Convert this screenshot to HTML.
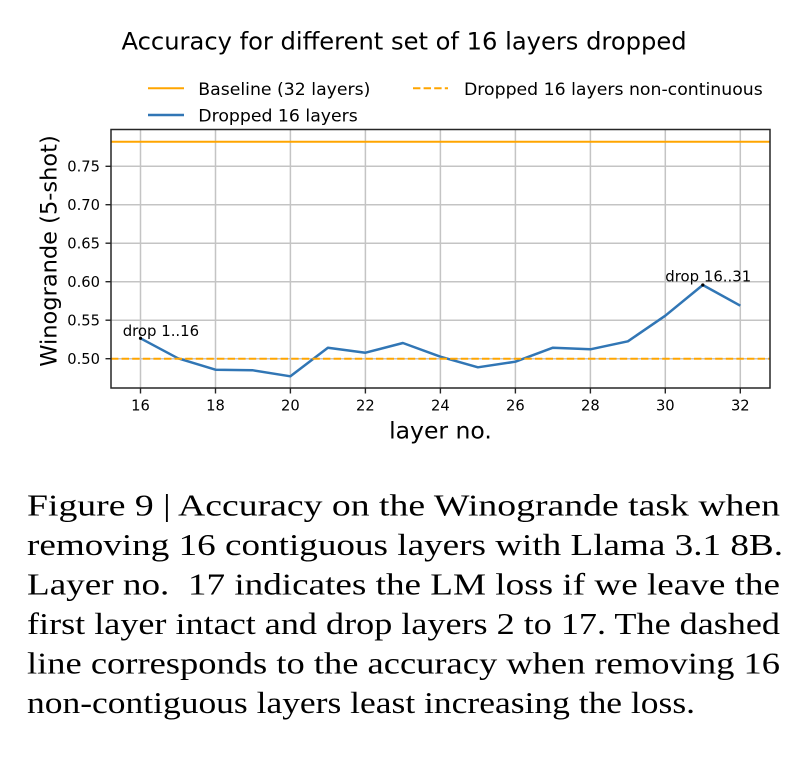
<!DOCTYPE html>
<html>
<head>
<meta charset="utf-8">
<style>
  html, body { margin: 0; padding: 0; background: #ffffff; }
  body { width: 810px; height: 758px; overflow: hidden; }
  svg { display: block; }
  .sans { font-family: "DejaVu Sans", "Liberation Sans", sans-serif; fill: #000; }
  .serif { font-family: "Liberation Serif", "DejaVu Serif", serif; fill: #000; font-size: 31px; }
</style>
</head>
<body>
<svg width="810" height="758" viewBox="0 0 810 758" xmlns="http://www.w3.org/2000/svg">
  <rect x="0" y="0" width="810" height="758" fill="#ffffff"/>

  <!-- Title -->
  <text class="sans" x="121.5" y="49.3" font-size="24.2">Accuracy for different set of 16 layers dropped</text>

  <!-- Legend -->
  <line x1="148" y1="88.3" x2="184" y2="88.3" stroke="#ffa500" stroke-width="2"/>
  <text class="sans" x="198.3" y="95" font-size="17.3">Baseline (32 layers)</text>
  <line x1="148" y1="115" x2="184" y2="115" stroke="#3176b5" stroke-width="2.5"/>
  <text class="sans" x="198.3" y="121.5" font-size="17.3">Dropped 16 layers</text>
  <line x1="413" y1="88.3" x2="448" y2="88.3" stroke="#ffa500" stroke-width="2" stroke-dasharray="7.4 3.2"/>
  <text class="sans" x="464" y="95" font-size="17.3">Dropped 16 layers non-continuous</text>

  <!-- Grid -->
  <g stroke="#c4c4c4" stroke-width="1.5">
    <line x1="140.5" y1="129.5" x2="140.5" y2="388"/>
    <line x1="215.5" y1="129.5" x2="215.5" y2="388"/>
    <line x1="290.4" y1="129.5" x2="290.4" y2="388"/>
    <line x1="365.4" y1="129.5" x2="365.4" y2="388"/>
    <line x1="440.4" y1="129.5" x2="440.4" y2="388"/>
    <line x1="515.4" y1="129.5" x2="515.4" y2="388"/>
    <line x1="590.4" y1="129.5" x2="590.4" y2="388"/>
    <line x1="665.3" y1="129.5" x2="665.3" y2="388"/>
    <line x1="740.3" y1="129.5" x2="740.3" y2="388"/>
    <line x1="111" y1="166.3" x2="770" y2="166.3"/>
    <line x1="111" y1="204.7" x2="770" y2="204.7"/>
    <line x1="111" y1="243.2" x2="770" y2="243.2"/>
    <line x1="111" y1="281.7" x2="770" y2="281.7"/>
    <line x1="111" y1="320.2" x2="770" y2="320.2"/>
    <line x1="111" y1="358.7" x2="770" y2="358.7"/>
  </g>

  <!-- Baseline -->
  <line x1="111" y1="141.7" x2="770" y2="141.7" stroke="#ffa500" stroke-width="2"/>

  <!-- Dropped 16 layers -->
  <polyline fill="none" stroke="#3176b5" stroke-width="2.5" stroke-linejoin="round"
    points="140.5,338.3 178,358.3 215.5,369.7 253,370.3 290.4,376.3 327.9,347.7 365.4,352.7 402.9,343 440.4,356.7 477.9,367.3 515.4,361.7 552.9,347.7 590.4,349.3 627.9,341.3 665.3,315.7 702.8,285 740.3,305.7"/>

  <!-- Dashed non-continuous -->
  <line x1="111" y1="358.7" x2="770" y2="358.7" stroke="#ffa500" stroke-width="2" stroke-dasharray="7.4 3.2"/>

  <!-- Annotations -->
  <circle cx="140.5" cy="338.3" r="1.6" fill="#000"/>
  <circle cx="702.8" cy="285" r="1.6" fill="#000"/>
  <text class="sans" x="122.7" y="336" font-size="14.9">drop 1..16</text>
  <text class="sans" x="665.3" y="281.7" font-size="14.9">drop 16..31</text>

  <!-- Axes frame -->
  <rect x="111" y="129.5" width="659" height="258.5" fill="none" stroke="#262626" stroke-width="1.5"/>

  <!-- Ticks -->
  <g stroke="#262626" stroke-width="1.4">
    <line x1="140.5" y1="388" x2="140.5" y2="393.5"/>
    <line x1="215.5" y1="388" x2="215.5" y2="393.5"/>
    <line x1="290.4" y1="388" x2="290.4" y2="393.5"/>
    <line x1="365.4" y1="388" x2="365.4" y2="393.5"/>
    <line x1="440.4" y1="388" x2="440.4" y2="393.5"/>
    <line x1="515.4" y1="388" x2="515.4" y2="393.5"/>
    <line x1="590.4" y1="388" x2="590.4" y2="393.5"/>
    <line x1="665.3" y1="388" x2="665.3" y2="393.5"/>
    <line x1="740.3" y1="388" x2="740.3" y2="393.5"/>
    <line x1="105.5" y1="166.3" x2="111" y2="166.3"/>
    <line x1="105.5" y1="204.7" x2="111" y2="204.7"/>
    <line x1="105.5" y1="243.2" x2="111" y2="243.2"/>
    <line x1="105.5" y1="281.7" x2="111" y2="281.7"/>
    <line x1="105.5" y1="320.2" x2="111" y2="320.2"/>
    <line x1="105.5" y1="358.7" x2="111" y2="358.7"/>
  </g>

  <!-- X tick labels -->
  <g class="sans" font-size="14.7" text-anchor="middle">
    <text x="140.5" y="410.5">16</text>
    <text x="215.5" y="410.5">18</text>
    <text x="290.4" y="410.5">20</text>
    <text x="365.4" y="410.5">22</text>
    <text x="440.4" y="410.5">24</text>
    <text x="515.4" y="410.5">26</text>
    <text x="590.4" y="410.5">28</text>
    <text x="665.3" y="410.5">30</text>
    <text x="740.3" y="410.5">32</text>
  </g>

  <!-- Y tick labels -->
  <g class="sans" font-size="14.7" text-anchor="end">
    <text x="100" y="171.7">0.75</text>
    <text x="100" y="210.1">0.70</text>
    <text x="100" y="248.6">0.65</text>
    <text x="100" y="287.1">0.60</text>
    <text x="100" y="325.6">0.55</text>
    <text x="100" y="364.1">0.50</text>
  </g>

  <!-- Axis labels -->
  <text class="sans" x="440.5" y="438.3" font-size="23.5" text-anchor="middle">layer no.</text>
  <text class="sans" font-size="22.5" text-anchor="middle" transform="translate(56.5,251) rotate(-90)">Winogrande (5-shot)</text>

  <!-- Caption -->
  <text class="serif" x="27" y="515.5" textLength="753" lengthAdjust="spacingAndGlyphs">Figure 9 | Accuracy on the Winogrande task when</text>
  <text class="serif" x="27" y="555" textLength="756" lengthAdjust="spacingAndGlyphs">removing 16 contiguous layers with Llama 3.1 8B.</text>
  <text class="serif" x="27" y="594.5" textLength="753" lengthAdjust="spacingAndGlyphs">Layer no.&#160; 17 indicates the LM loss if we leave the</text>
  <text class="serif" x="27" y="634" textLength="753" lengthAdjust="spacingAndGlyphs">first layer intact and drop layers 2 to 17. The dashed</text>
  <text class="serif" x="27" y="673.5" textLength="753" lengthAdjust="spacingAndGlyphs">line corresponds to the accuracy when removing 16</text>
  <text class="serif" x="27" y="713" textLength="668" lengthAdjust="spacingAndGlyphs">non-contiguous layers least increasing the loss.</text>
</svg>
</body>
</html>
